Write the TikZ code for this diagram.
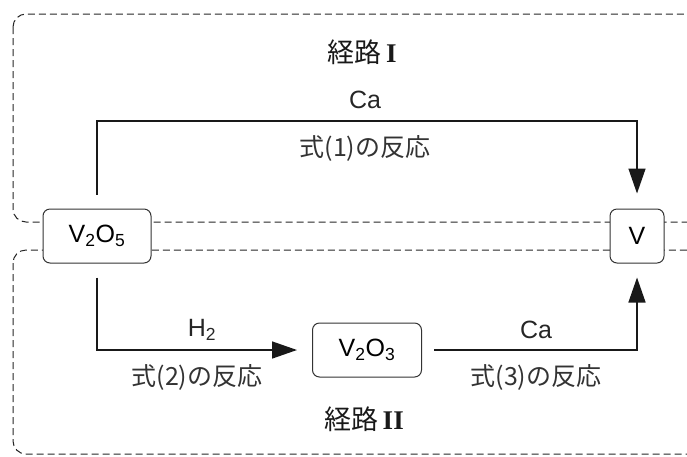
\documentclass[tikz,border=0pt]{standalone}
\usepackage{fontspec}
\setmainfont{Liberation Sans}
\newfontfamily\jp{Noto Sans CJK JP}
\newfontfamily\romfont{Liberation Serif}
\usetikzlibrary{arrows.meta}
\begin{document}
\begin{tikzpicture}[x=1pt,y=-1pt,
  route/.style={draw=black!85,dashed,dash pattern=on 7pt off 4pt,line width=1pt,rounded corners=13pt},
  chem/.style={draw=black!80,line width=1pt,rounded corners=7pt,fill=white,minimum height=54pt,font=\fontsize{25}{28}\selectfont,inner sep=0pt},
  conn/.style={draw=black!90,line width=1.5pt,-{Triangle[length=25pt,width=17pt]}},
  lab/.style={font=\fontsize{25}{28}\selectfont,text=black!85},
  jlab/.style={font=\jp\fontsize{25}{28}\selectfont,text=black!80},
  title/.style={font=\jp\fontsize{27}{30}\selectfont,text=black!90}]
\useasboundingbox (0,0) rectangle (687,456);
% route boxes
\draw[route] (13,14) rectangle (700,222);
\draw[route] (13,250) rectangle (700,454);
% species
\node[chem,minimum width=108pt] (v25) at (97,236) {V\textsubscript{2}O\textsubscript{5}};
\node[chem,minimum width=54pt] (v) at (637,236) {V};
\node[chem,minimum width=109pt] (v23) at (367,350) {V\textsubscript{2}O\textsubscript{3}};
\coordinate (top) at (97,121);
% connectors
\draw[conn,shorten <=14pt,shorten >=15pt] (v25.north) -- (top) -| (v.north);
\draw[conn,shorten <=14pt,shorten >=15pt] (v25.south) |- (v23.west);
\draw[conn,shorten <=12pt,shorten >=14pt] (v23.east) -| (v.south);
% labels
\node[title] (t1) at (362,52) {経路\,{\romfont\bfseries I}};
\node[lab] (ca1) at (365,100) {Ca};
\node[jlab] (r1) at (365,148) {式(1)の反応};
\node[lab] (h2) at (202,330) {H\textsubscript{2}};
\node[jlab] (r2) at (197,377) {式(2)の反応};
\node[lab] (ca3) at (536,330) {Ca};
\node[jlab] (r3) at (536,377) {式(3)の反応};
\node[title] (t2) at (364,419) {経路\,{\romfont\bfseries II}};
\end{tikzpicture}
\end{document}
